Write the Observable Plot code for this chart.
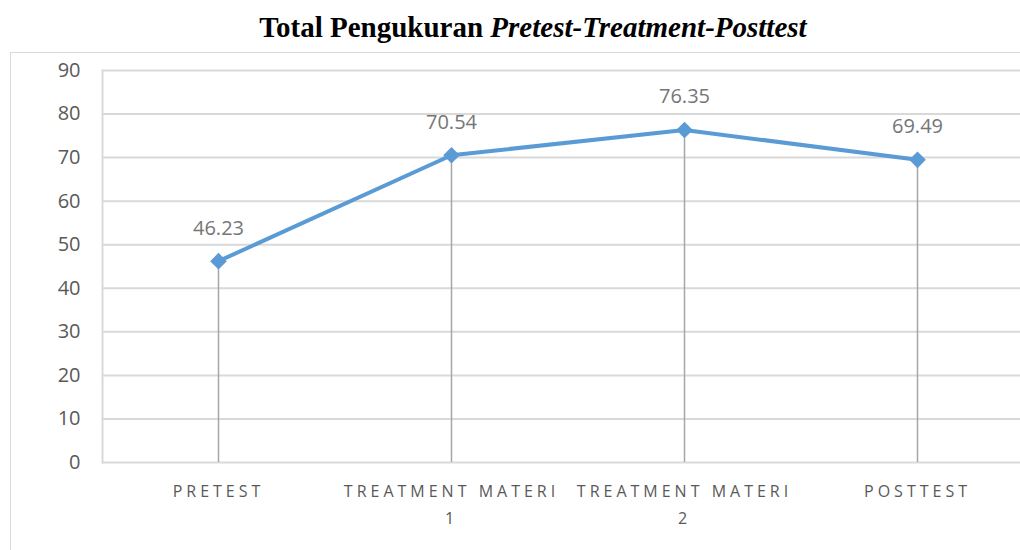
<!DOCTYPE html>
<html>
<head>
<meta charset="utf-8">
<script src="https://cdn.jsdelivr.net/npm/d3@7"></script>
<script src="https://cdn.jsdelivr.net/npm/@observablehq/plot@0.6"></script>
<style>
  html, body { margin: 0; padding: 0; background: #fff; width: 1020px; height: 550px; overflow: hidden; }
  #title { position: absolute; top: 11px; left: 10px; width: 1046px; text-align: center;
           font-family: "Liberation Serif", "Times New Roman", serif; font-weight: bold; font-size: 29px; color: #000; }
  #frame { position: absolute; left: 10px; top: 52px; width: 1046px; height: 520px; border: 1.5px solid #d9d9d9; box-sizing: border-box; }
  #chart { position: absolute; left: 0; top: 52px; }
  #chart g[aria-label="x-axis tick label"] text { letter-spacing: 4px; }
</style>
</head>
<body>
<div id="title">Total Pengukuran <i>Pretest-Treatment-Posttest</i></div>
<div id="frame"></div>
<div id="chart"></div>
<script>
const categories = ["Pretest", "Treatment Materi 1", "Treatment Materi 2", "Posttest"];
const values = [46.23, 70.54, 76.35, 69.49];
const yTicks = [0, 10, 20, 30, 40, 50, 60, 70, 80, 90];

const data = categories.map((c, i) => ({ category: c, value: values[i] }));

const fmtCat = (c) => {
  const u = c.toUpperCase();
  const m = u.match(/^(.*) (\d+)$/);
  return m ? m[1] + "\n" + m[2] : u;
};

const plot = Plot.plot({
  width: 1020,
  height: 498,
  marginTop: 18,
  marginBottom: 88,
  marginLeft: 102,
  marginRight: 0,
  style: { fontFamily: "'Open Sans', sans-serif", background: "transparent", overflow: "visible" },
  x: { type: "point", domain: categories, range: [218, 917], padding: 0, label: null },
  y: { domain: [0, 90], label: null },
  marks: [
    Plot.ruleY(yTicks, { stroke: "#d9d9d9", strokeWidth: 2 }),
    Plot.frame({ anchor: "left", stroke: "#d9d9d9", strokeWidth: 2 }),
    Plot.ruleX(data, { x: "category", y1: 0, y2: "value", stroke: "#a6a6a6", strokeWidth: 1.5 }),
    Plot.axisY({ ticks: yTicks, tickSize: 0, tickPadding: 22, fontSize: 20, fill: "#595959", label: null }),
    Plot.axisX({ tickSize: 0, tickPadding: 16, fontSize: 16, fill: "#595959", label: null,
                 tickFormat: fmtCat, lineHeight: 1.65 }),
    Plot.line(data, { x: "category", y: "value", stroke: "#5b9bd5", strokeWidth: 4 }),
    Plot.dot(data, { x: "category", y: "value", symbol: "diamond2", r: 7.5, fill: "#5b9bd5", stroke: "none" }),
    Plot.text(data, { x: "category", y: "value", text: (d) => d.value.toFixed(2), dy: -33, fontSize: 20, fill: "#767676" })
  ]
});
document.getElementById("chart").appendChild(plot);
</script>
</body>
</html>
